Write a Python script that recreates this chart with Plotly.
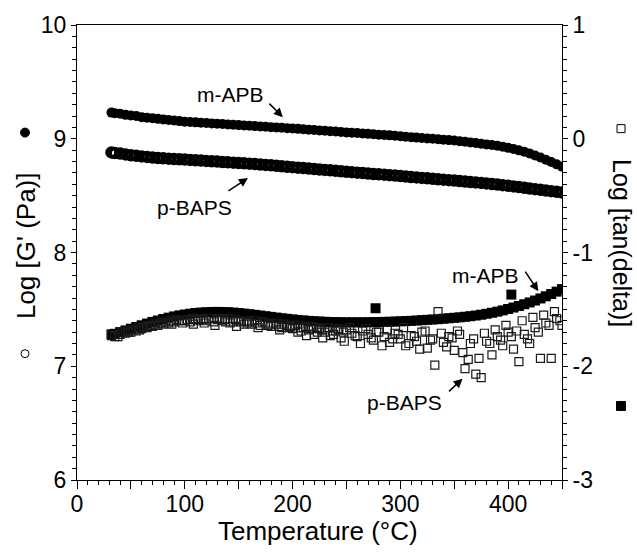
import plotly.graph_objects as go

# ---------------- data ----------------
temps = [32, 35, 40, 45, 50, 55, 60, 65, 70, 75,
         80, 85, 90, 95, 100, 105, 110, 115, 120, 125,
         130, 135, 140, 145, 150, 155, 160, 165, 170, 175,
         180, 185, 190, 195, 200, 205, 210, 215, 220, 225,
         230, 235, 240, 245, 250, 255, 260, 265, 270, 275,
         280, 285, 290, 295, 300, 305, 310, 315, 320, 325,
         330, 335, 340, 345, 350, 355, 360, 365, 370, 375,
         380, 385, 390, 395, 400, 405, 410, 415, 420, 425,
         430, 435, 440, 445, 450]

mapb_logG = [9.23, 9.225, 9.22, 9.21, 9.205, 9.20, 9.19, 9.185, 9.18, 9.175,
             9.17, 9.165, 9.16, 9.155, 9.15, 9.147, 9.144, 9.141, 9.138, 9.135,
             9.132, 9.129, 9.126, 9.123, 9.12, 9.117, 9.114, 9.111, 9.108, 9.105,
             9.102, 9.099, 9.096, 9.093, 9.09, 9.087, 9.084, 9.08, 9.077, 9.073,
             9.07, 9.066, 9.063, 9.06, 9.056, 9.053, 9.05, 9.046, 9.043, 9.04,
             9.036, 9.033, 9.03, 9.026, 9.022, 9.018, 9.014, 9.01, 9.006, 9.002,
             9.0, 8.996, 8.992, 8.988, 8.984, 8.979, 8.974, 8.968, 8.962, 8.956,
             8.95, 8.945, 8.938, 8.93, 8.92, 8.91, 8.898, 8.885, 8.87, 8.853,
             8.835, 8.815, 8.795, 8.775, 8.755]

pbaps_logG = [8.88, 8.875, 8.87, 8.862, 8.855, 8.85, 8.845, 8.84, 8.835, 8.83,
              8.828, 8.825, 8.822, 8.82, 8.817, 8.814, 8.811, 8.808, 8.805, 8.802,
              8.799, 8.796, 8.793, 8.79, 8.787, 8.784, 8.781, 8.778, 8.774, 8.77,
              8.766, 8.762, 8.758, 8.754, 8.75, 8.746, 8.742, 8.738, 8.734, 8.73,
              8.726, 8.722, 8.718, 8.714, 8.71, 8.706, 8.702, 8.698, 8.694, 8.69,
              8.687, 8.684, 8.68, 8.676, 8.672, 8.668, 8.664, 8.66, 8.656, 8.652,
              8.648, 8.644, 8.64, 8.636, 8.632, 8.628, 8.624, 8.62, 8.616, 8.612,
              8.607, 8.602, 8.597, 8.592, 8.587, 8.581, 8.575, 8.569, 8.563, 8.557,
              8.551, 8.545, 8.539, 8.533, 8.527]

mapb_logtan = [-1.72, -1.715, -1.70, -1.685, -1.67, -1.655, -1.64, -1.625, -1.61, -1.598,
               -1.585, -1.573, -1.562, -1.553, -1.545, -1.538, -1.532, -1.528, -1.525, -1.523,
               -1.522, -1.523, -1.525, -1.528, -1.532, -1.537, -1.542, -1.548, -1.554, -1.56,
               -1.566, -1.572, -1.578, -1.583, -1.588, -1.593, -1.597, -1.601, -1.604, -1.607,
               -1.609, -1.611, -1.612, -1.613, -1.614, -1.614, -1.614, -1.614, -1.613, -1.612,
               -1.611, -1.61, -1.609, -1.607, -1.605, -1.603, -1.601, -1.598, -1.595, -1.592,
               -1.589, -1.586, -1.582, -1.578, -1.574, -1.57, -1.565, -1.56, -1.554, -1.547,
               -1.539, -1.53, -1.52, -1.509, -1.497, -1.484, -1.47, -1.455, -1.439, -1.422,
               -1.404, -1.385, -1.365, -1.344, -1.322]

mapb_out_temps = [277, 403]
mapb_out_logtan = [-1.49, -1.37]

pbaps_logtan = [-1.73, -1.74, -1.72, -1.71, -1.70, -1.69, -1.67, -1.66, -1.65, -1.64,
                -1.63, -1.62, -1.61, -1.60, -1.60, -1.61, -1.59, -1.58, -1.60, -1.58,
                -1.59, -1.60, -1.58, -1.61, -1.60, -1.63, -1.61, -1.60, -1.64, -1.62,
                -1.65, -1.63, -1.66, -1.64, -1.67, -1.70, -1.66, -1.68, -1.72, -1.67,
                -1.70, -1.73, -1.69, -1.75, -1.68, -1.71, -1.74, -1.69, -1.72, -1.77,
                -1.70, -1.74, -1.79, -1.71, -1.76, -1.82, -1.73, -1.78, -1.70, -1.84,
                -1.76, -1.52, -1.79, -1.74, -1.86, -1.72, -2.02, -1.80, -2.07, -2.10,
                -1.78, -1.90, -1.74, -1.82, -1.70, -1.85, -1.96, -1.72, -1.80, -1.66,
                -1.93, -1.62, -1.93, -1.58, -1.64]

pbaps_temps_b = [38, 48, 58, 68, 78, 88, 98, 108, 118, 128,
                 138, 148, 158, 168, 178, 188, 198, 202, 208, 213,
                 218, 223, 228, 233, 238, 243, 248, 253, 258, 263,
                 268, 273, 278, 283, 288, 293, 298, 303, 308, 313,
                 318, 323, 328, 332, 338, 343, 348, 353, 358, 363,
                 368, 373, 378, 383, 388, 393, 398, 403, 408, 413,
                 418, 423, 428, 433, 438, 443, 448]
pbaps_logtan_b = [-1.74, -1.70, -1.68, -1.65, -1.62, -1.63, -1.62, -1.63, -1.62, -1.64,
                  -1.61, -1.65, -1.62, -1.66, -1.63, -1.68, -1.65, -1.64, -1.69, -1.73,
                  -1.65, -1.70, -1.75, -1.66, -1.72, -1.68, -1.78, -1.66, -1.73, -1.80,
                  -1.67, -1.75, -1.70, -1.82, -1.68, -1.76, -1.72, -1.66, -1.80, -1.74,
                  -1.85, -1.69, -1.77, -1.99, -1.71, -1.83, -1.75, -1.69, -1.88, -1.94,
                  -1.76, -1.93, -1.71, -1.80, -1.68, -1.77, -1.64, -1.74, -1.69, -1.60,
                  -1.76, -1.57, -1.70, -1.55, -1.64, -1.52, -1.60]

pbaps_temps_c = [42, 47, 52, 57, 62, 67, 72, 77, 82, 87,
                 92, 97, 102, 107, 112, 117, 122, 127, 132, 137,
                 142, 147, 152, 157, 162, 167, 172, 177, 182, 187,
                 192, 197, 202, 207, 212, 217, 222, 227, 232, 237,
                 242, 247]
pbaps_logtan_c = [-1.70, -1.69, -1.68, -1.66, -1.65, -1.64, -1.63, -1.62, -1.61, -1.60,
                  -1.59, -1.60, -1.59, -1.58, -1.60, -1.59, -1.58, -1.61, -1.58, -1.59,
                  -1.62, -1.59, -1.61, -1.60, -1.63, -1.62, -1.61, -1.64, -1.62, -1.65,
                  -1.63, -1.66, -1.64, -1.66, -1.65, -1.67, -1.66, -1.68, -1.66, -1.69,
                  -1.67, -1.70]

x_major = [0, 50, 100, 150, 200, 250, 300, 350, 400, 450]
x_labels = ["0", "", "100", "", "200", "", "300", "", "400", ""]
yl_vals = [6, 7, 8, 9, 10]
yl_labels = ["6", "7", "8", "9", "10"]
yr_vals = [-3, -2, -1, 0, 1]
yr_labels = ["-3", "-2", "-1", "0", "1"]

FONT = "Liberation Sans, Arial, sans-serif"

fig = go.Figure()

fig.add_trace(go.Scatter(
    x=temps + mapb_out_temps, y=mapb_logtan + mapb_out_logtan, yaxis="y2",
    mode="markers", marker=dict(symbol="square", size=10, color="black"),
    showlegend=False, hoverinfo="skip"))
fig.add_trace(go.Scatter(
    x=temps + pbaps_temps_b + pbaps_temps_c,
    y=pbaps_logtan + pbaps_logtan_b + pbaps_logtan_c, yaxis="y2",
    mode="markers",
    marker=dict(symbol="square-open", size=8, color="#1a1a1a", line=dict(width=1.2)),
    showlegend=False, hoverinfo="skip"))
fig.add_trace(go.Scatter(
    x=temps, y=mapb_logG, mode="markers",
    marker=dict(symbol="circle", size=10, color="black"),
    showlegend=False, hoverinfo="skip"))
fig.add_trace(go.Scatter(
    x=temps, y=pbaps_logG, mode="markers",
    marker=dict(symbol="circle-open", size=9, color="black", line=dict(width=3.5)),
    showlegend=False, hoverinfo="skip"))

tickfont = dict(family=FONT, size=23, color="black")

fig.update_layout(
    width=637, height=554,
    margin=dict(l=77, r=75, t=19, b=74, pad=0),
    paper_bgcolor="white", plot_bgcolor="white",
    font=dict(family=FONT, color="black"),
    xaxis=dict(range=[0, 450], tickmode="array", tickvals=x_major, ticktext=x_labels,
               ticks="outside", ticklen=8, tickwidth=1, tickcolor="black",
               ticklabelstandoff=-5,
               minor=dict(tickmode="linear", tick0=0, dtick=10, ticks="outside",
                          ticklen=4, tickwidth=1, tickcolor="black"),
               showline=True, linecolor="black", linewidth=1, mirror=True,
               showgrid=False, zeroline=False, tickfont=tickfont),
    yaxis=dict(range=[6, 10], tickmode="array", tickvals=yl_vals, ticktext=yl_labels,
               ticks="outside", ticklen=5, tickwidth=1, tickcolor="black",
               minor=dict(tickmode="linear", tick0=6, dtick=0.1, ticks="outside",
                          ticklen=4, tickwidth=1, tickcolor="black"),
               showline=True, linecolor="black", linewidth=1,
               showgrid=False, zeroline=False, tickfont=tickfont),
    yaxis2=dict(range=[-3, 1], overlaying="y", side="right", anchor="x",
                tickmode="array", tickvals=yr_vals, ticktext=yr_labels,
                ticks="outside", ticklen=5, tickwidth=1, tickcolor="black",
                minor=dict(tickmode="linear", tick0=-3, dtick=0.1, ticks="outside",
                           ticklen=4, tickwidth=1, tickcolor="black"),
                showline=True, linecolor="black", linewidth=1,
                showgrid=False, zeroline=False, tickfont=tickfont),
)

W, H = 485.0, 461.0
L, B = 77.0, 480.0
def px(xp):
    return (xp - L) / W
def py(yp):
    return (B - yp) / H

title_font = dict(family=FONT, size=26, color="black")
label_font = dict(family=FONT, size=21, color="black")

# axis titles
fig.add_annotation(text="Temperature (°C)", xref="paper", yref="paper",
                   x=px(318), y=py(532), showarrow=False, font=title_font,
                   xanchor="center", yanchor="middle")
fig.add_annotation(text="Log [G' (Pa)]", xref="paper", yref="paper",
                   x=px(26), y=py(243), showarrow=False, font=title_font,
                   textangle=-90, xanchor="center", yanchor="middle")
fig.add_annotation(text="Log [tan(delta)]", xref="paper", yref="paper",
                   x=px(622), y=py(240), showarrow=False,
                   font=dict(family=FONT, size=25, color="black"),
                   textangle=90, xanchor="center", yanchor="middle")

# symbols in axis titles
def sym(kind, xp, yp, filled, r=4.5):
    fig.add_shape(type=kind, xref="paper", yref="paper",
                  xsizemode="pixel", ysizemode="pixel",
                  xanchor=px(xp), yanchor=py(yp),
                  x0=-r, x1=r, y0=-r, y1=r,
                  line=dict(color="black", width=1),
                  fillcolor="black" if filled else "white")

sym("circle", 25, 128, True)
sym("circle", 25, 352, False, r=4)
sym("rect", 621, 124, False, r=4)
sym("rect", 621, 405, True, r=4.5)

# series labels
labels = [("m-APB", 142, 9.39), ("p-BAPS", 108.6, 8.40),
          ("m-APB", 379, 7.80), ("p-BAPS", 304, 6.68)]
for txt, xv, yv in labels:
    fig.add_annotation(text=txt, x=xv, y=yv, xref="x", yref="y", showarrow=False,
                       font=label_font, xanchor="center", yanchor="middle")

arrows = [(191, 9.19, -15, -15), (158.6, 8.655, -21, 14),
          (428, 7.66, -14, -21), (357.7, 6.89, -15, 14)]
for xv, yv, axp, ayp in arrows:
    fig.add_annotation(text="", x=xv, y=yv, xref="x", yref="y", showarrow=True,
                       ax=axp, ay=ayp, arrowhead=2, arrowsize=1.2, arrowwidth=1.5,
                       arrowcolor="black", standoff=0, startstandoff=0)

fig.write_html("out.html", config={"displayModeBar": False},
               post_script="document.body.style.margin='0';document.body.style.overflow='hidden';")
